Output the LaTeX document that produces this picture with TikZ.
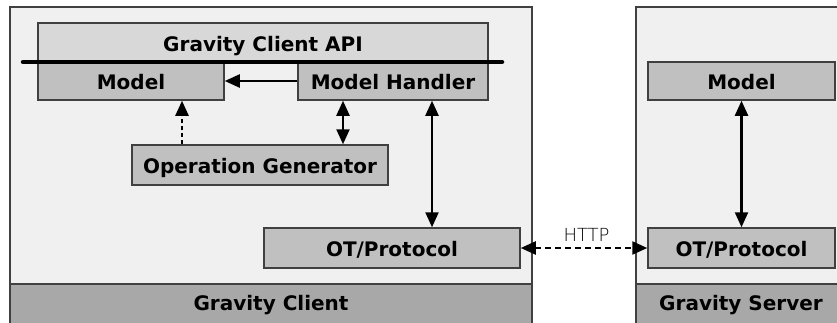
\documentclass[tikz,border=0pt]{standalone}
\usepackage{fontspec}
\setmainfont{DejaVu Sans}
\newfontfamily\thinfont{DejaVu Sans ExtraLight}
\usetikzlibrary{arrows.meta}

\definecolor{framegray}{HTML}{404040}
\definecolor{panelgray}{HTML}{F0F0F0}
\definecolor{apigray}{HTML}{D8D8D8}
\definecolor{boxgray}{HTML}{C0C0C0}
\definecolor{bandgray}{HTML}{A8A8A8}

\tikzset{
  part/.style={draw=framegray, line width=1.5pt, fill=boxgray, inner sep=0pt,
    text height=17pt, text depth=0pt, font=\bfseries\fontsize{20}{24}\selectfont},
  title/.style={text height=17pt, text depth=0pt, inner sep=0pt,
    font=\bfseries\fontsize{20}{24}\selectfont},
  panel/.style={draw=framegray, fill=panelgray, line width=2pt},
  tip/.tip={Triangle[length=15pt,width=13pt]},
  link/.style={line width=2.3pt, tip-tip},
}

\begin{document}
\begin{tikzpicture}[x=1pt, y=-1pt]

\clip (0,0) rectangle (837,322);
\fill[white] (0,0) rectangle (837,322);

% Panels
\draw[panel] (10,7) rectangle (532,345);
\draw[panel] (636,7) rectangle (850,345);
\draw[panel, fill=bandgray] (10,284) rectangle (532,345);
\draw[panel, fill=bandgray] (636,284) rectangle (850,345);
\node[title] (client) at (271,302) {Gravity Client};
\node[title] (server) at (741,302) {Gravity Server};

% Client parts
\node[part, fill=apigray, minimum width=450pt, minimum height=39pt] (api) at (263,42.5) {Gravity Client API};
\node[part, minimum width=186pt, minimum height=38pt] (model) at (131,81) {Model};
\node[part, minimum width=190pt, minimum height=38pt] (handler) at (393,81) {Model Handler};
\node[part, minimum width=256pt, minimum height=40pt] (opgen) at (260,165) {Operation Generator};
\node[part, minimum width=256pt, minimum height=40pt] (otc) at (392,248) {OT/Protocol};
\draw[line width=4.5pt, line cap=round] (23,62) -- (502,62);

% Server parts
\node[part, minimum width=187pt, minimum height=38pt] (smodel) at (741.5,81) {Model};
\node[part, minimum width=187pt, minimum height=40pt] (sot) at (741.5,248) {OT/Protocol};

% Arrows
\coordinate (genx) at (182,0);
\coordinate (hx) at (343,0);
\coordinate (px) at (432,0);
\draw[link, tip-] (model.east) -- (handler.west);
\draw[link, -tip, dash pattern=on 4pt off 3pt] (opgen.north -| genx) -- (model.south -| genx);
\draw[link] (handler.south -| hx) -- (opgen.north -| hx);
\draw[link] (handler.south -| px) -- (otc.north -| px);
\draw[link] (smodel.south) -- (sot.north);
\draw[link, dash pattern=on 6pt off 4pt] (otc.east) -- node[above, pos=0.52, inner sep=5pt, font=\thinfont\fontsize{18}{22}\selectfont] (http) {HTTP} (sot.west);

\end{tikzpicture}
\end{document}
